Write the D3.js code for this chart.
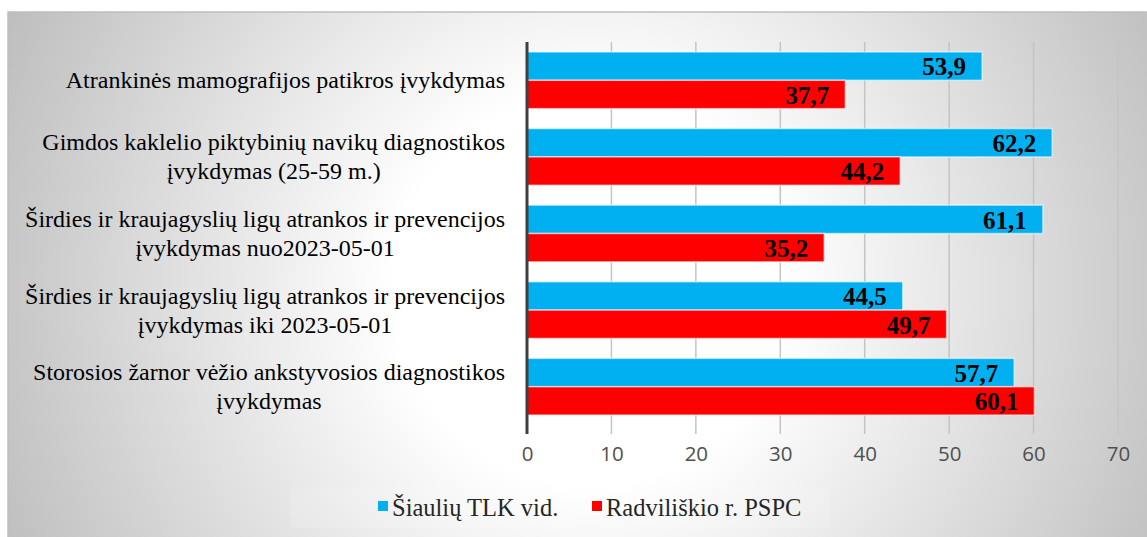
<!DOCTYPE html>
<html>
<head>
<meta charset="utf-8">
<script src="https://cdn.jsdelivr.net/npm/d3@7"></script>
<style>
  html, body { margin: 0; padding: 0; background: #fff; }
  svg { display: block; }
</style>
</head>
<body>
<div id="chart"></div>
<script>
// categories, one array of lines per label
let categories = [
    ["Atrankinės mamografijos patikros įvykdymas"],
    ["Gimdos kaklelio piktybinių navikų diagnostikos", "įvykdymas (25-59 m.)"],
    ["Širdies ir kraujagyslių ligų atrankos ir prevencijos", "įvykdymas nuo2023-05-01"],
    ["Širdies ir kraujagyslių ligų atrankos ir prevencijos", "įvykdymas iki 2023-05-01"],
    ["Storosios žarnor vėžio ankstyvosios diagnostikos", "įvykdymas"]
];
let seriesNames = ["Šiaulių TLK vid.", "Radviliškio r. PSPC"];
let tlkValues = [53.9, 62.2, 61.1, 44.5, 57.7];
let pspcValues = [37.7, 44.2, 35.2, 49.7, 60.1];
let xTicks = [0, 10, 20, 30, 40, 50, 60, 70];
let colors = ["#00b0f0", "#ff0000"];

let createBarChart = function () {
    let width = 1147, height = 537;

    let svg = d3.select("#chart").append("svg")
        .attr("width", width)
        .attr("height", height);

    //background gradient of the chart area
    let defs = svg.append("defs");
    let grad = defs.append("radialGradient")
        .attr("id", "bg")
        .attr("gradientUnits", "userSpaceOnUse")
        .attr("cx", 590).attr("cy", 290).attr("r", 650);
    grad.append("stop").attr("offset", 0).attr("stop-color", "#ffffff");
    grad.append("stop").attr("offset", 0.3).attr("stop-color", "#ffffff");
    grad.append("stop").attr("offset", 1).attr("stop-color", "#bdbdbd");

    svg.append("rect")
        .attr("x", 8).attr("y", 12)
        .attr("width", width).attr("height", height)
        .attr("fill", "url(#bg)")
        .attr("stroke", "#bfbfbf")
        .attr("stroke-width", 1.5);

    //plot dimensions
    let plot = {left: 527, right: 1118, top: 42, bottom: 425};

    let x = d3.scaleLinear()
        .domain([0, 70])
        .range([plot.left, plot.right]);

    let y = d3.scaleBand()
        .domain(d3.range(categories.length))
        .range([plot.top, plot.bottom])
        .paddingInner(0.26)
        .paddingOuter(0.13);

    let ySub = d3.scaleBand()
        .domain([0, 1])
        .range([0, y.bandwidth()]);

    //gridlines (they run down past the plot as tick marks)
    svg.append("g")
        .selectAll("line")
        .data(xTicks.slice(1))
        .join("line")
        .attr("x1", d => x(d)).attr("x2", d => x(d))
        .attr("y1", plot.top).attr("y2", 434)
        .attr("stroke", "#c4c4c4")
        .attr("stroke-width", 1.5);

    //value axis labels
    let xAxis = svg.append("g")
        .attr("transform", `translate(0,${434})`)
        .call(d3.axisBottom(x).tickValues(xTicks).tickSize(0).tickPadding(12).tickFormat(d3.format("d")));
    xAxis.select(".domain").remove();
    xAxis.selectAll("text")
        .attr("font-family", "'Open Sans', sans-serif")
        .attr("font-size", 20.5)
        .attr("fill", "#505050");

    //bars
    let rows = categories.map((c, i) => ({i: i, values: [tlkValues[i], pspcValues[i]]}));

    let group = svg.append("g")
        .selectAll("g")
        .data(rows)
        .join("g")
        .attr("transform", d => `translate(0,${y(d.i)})`);

    let bar = group.selectAll("g")
        .data(d => d.values.map((v, s) => ({s: s, v: v})))
        .join("g");

    bar.append("rect")
        .attr("x", x(0))
        .attr("y", d => ySub(d.s))
        .attr("width", d => x(d.v) - x(0))
        .attr("height", ySub.bandwidth())
        .attr("fill", d => colors[d.s])
        .attr("stroke", "rgba(255,255,255,0.55)")
        .attr("stroke-width", 1.5);

    bar.append("text")
        .attr("x", d => x(d.v) - 16)
        .attr("y", d => ySub(d.s) + ySub.bandwidth() / 2)
        .attr("dy", "0.37em")
        .attr("text-anchor", "end")
        .attr("font-family", "'Liberation Serif', 'Times New Roman', serif")
        .attr("font-weight", "bold")
        .attr("font-size", 25)
        .attr("fill", "#000")
        .text(d => d3.format(".1f")(d.v).replace(".", ","));

    //category axis line
    svg.append("line")
        .attr("x1", x(0)).attr("x2", x(0))
        .attr("y1", plot.top).attr("y2", 434)
        .attr("stroke", "#404040")
        .attr("stroke-width", 3);

    //category labels: lines centred on each other, block right aligned
    let labelRight = 505, lineGap = 29;
    categories.forEach((lines, i) => {
        let cy = y(i) + y.bandwidth() / 2;
        let g = svg.append("g");
        let texts = lines.map((line, k) => g.append("text")
            .attr("y", cy + 8 + (k - (lines.length - 1) / 2) * lineGap)
            .attr("text-anchor", "middle")
            .attr("font-family", "'Liberation Serif', 'Times New Roman', serif")
            .attr("font-size", 24)
            .attr("fill", "#000")
            .text(line));
        let maxW = d3.max(texts, t => t.node().getComputedTextLength());
        texts.forEach(t => t.attr("x", labelRight - maxW / 2));
    });

    //legend
    let legend = svg.append("g");
    legend.append("rect")
        .attr("x", 290).attr("y", 487)
        .attr("width", 540).attr("height", 41)
        .attr("fill", "#fff")
        .attr("fill-opacity", 0.12);
    let legendX = [378, 592];
    seriesNames.forEach((name, s) => {
        legend.append("rect")
            .attr("x", legendX[s]).attr("y", 501)
            .attr("width", 10).attr("height", 10)
            .attr("fill", colors[s]);
        legend.append("text")
            .attr("x", legendX[s] + 14).attr("y", 516)
            .attr("font-family", "'Liberation Serif', 'Times New Roman', serif")
            .attr("font-size", 24.5)
            .attr("fill", "#262626")
            .text(name);
    });
};

createBarChart();
</script>
</body>
</html>
